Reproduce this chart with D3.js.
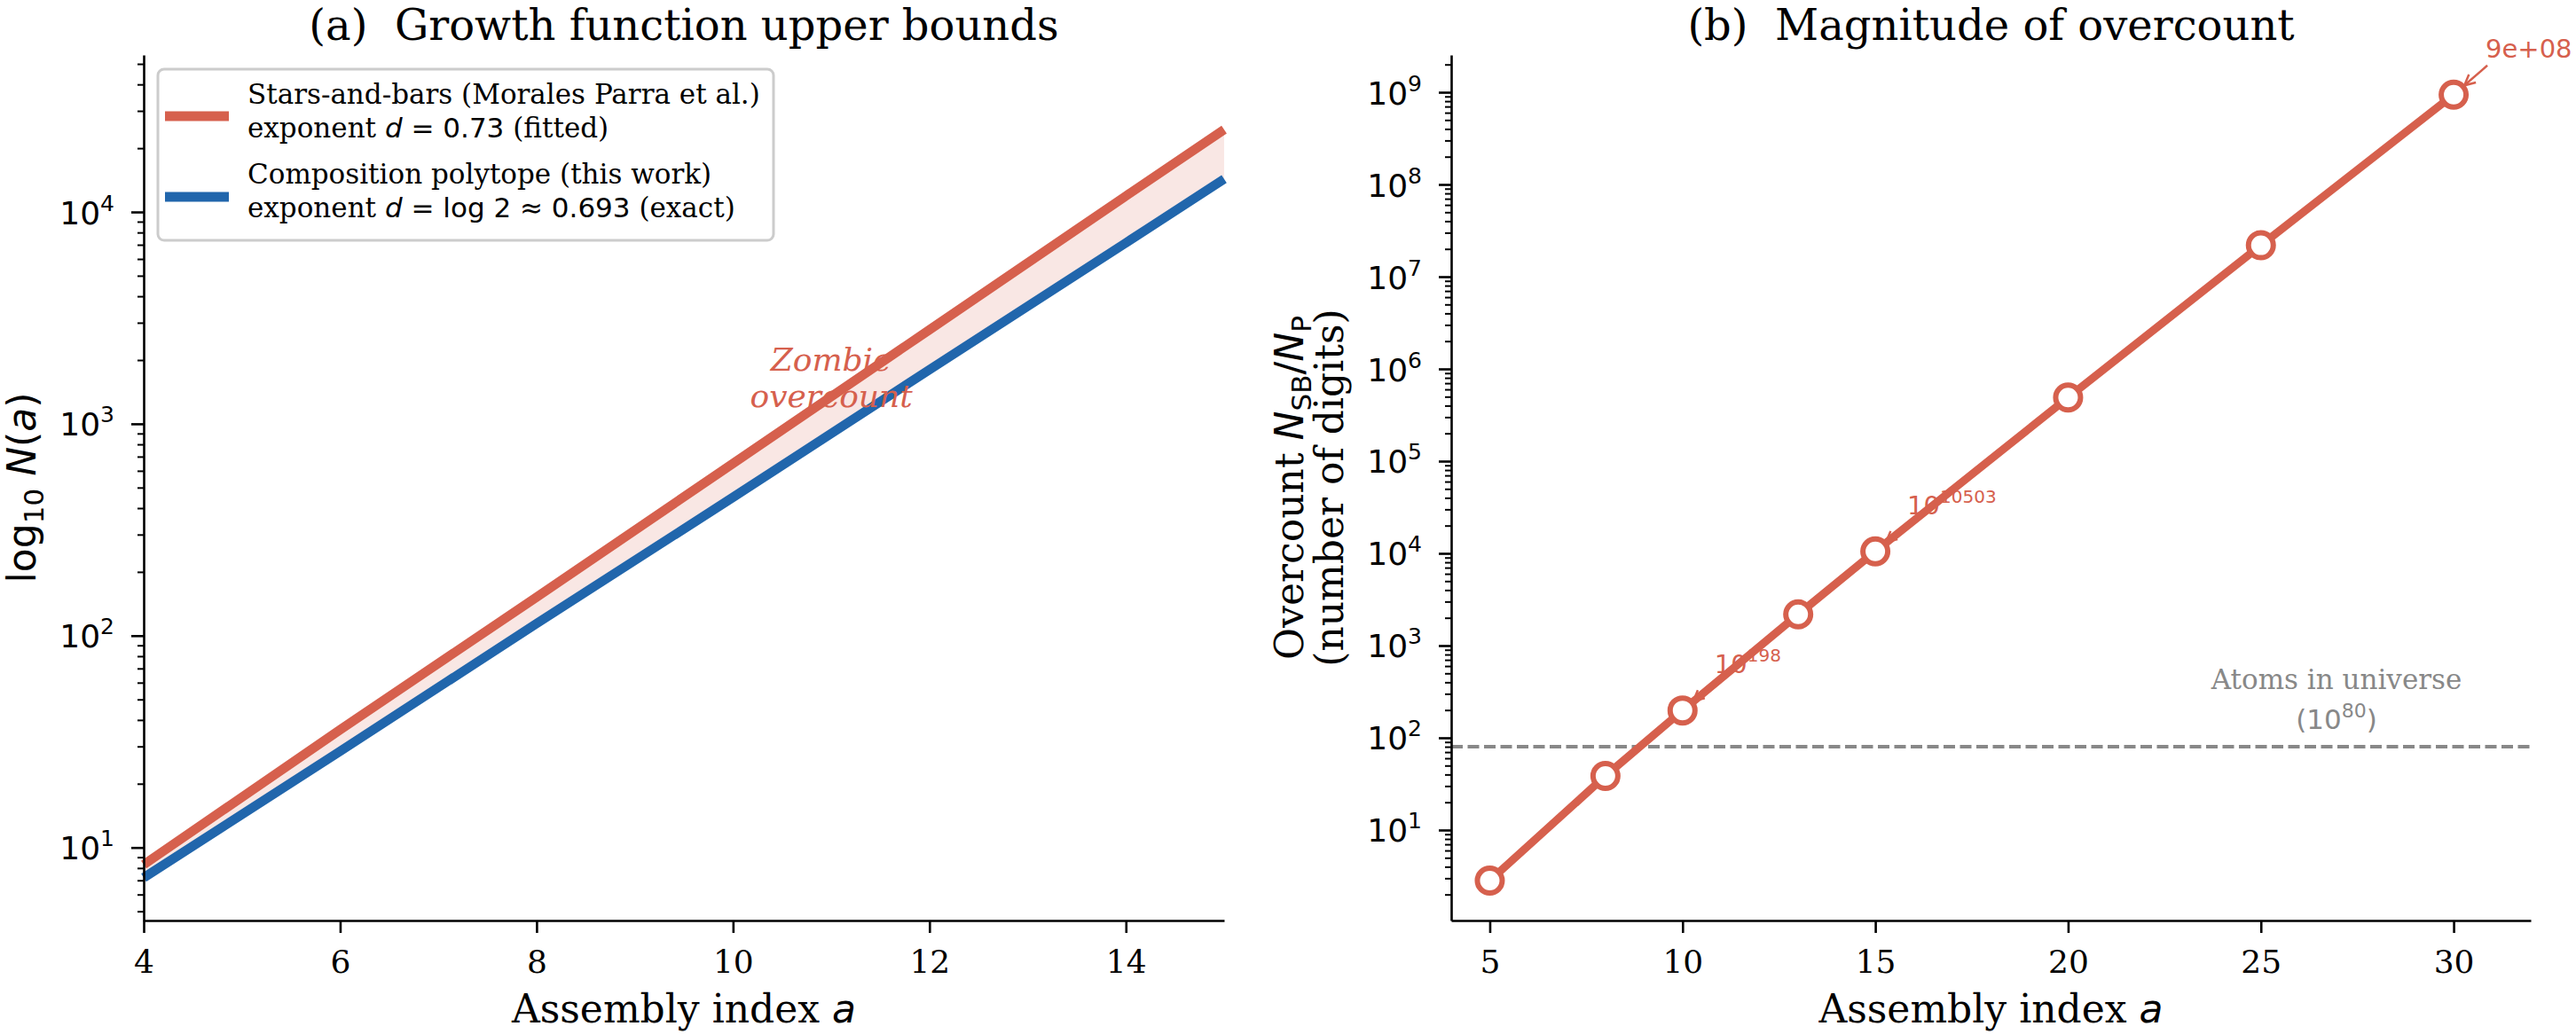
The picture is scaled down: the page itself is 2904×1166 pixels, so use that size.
<!DOCTYPE html>
<html>
<head>
<meta charset="utf-8">
<script src="https://cdn.jsdelivr.net/npm/d3@7"></script>
<style>
  body { margin: 0; background: #fff; }
  svg text { white-space: pre; }
</style>
</head>
<body>
<svg id="fig" width="2904" height="1166" font-family="DejaVu Serif"></svg>
<script>
// ---- panel (a): growth function upper bounds ----
const growthA      = [4, 6, 8, 10, 12, 14, 15]
const starsBarsN   = [8.3, 36, 152, 650, 2780, 11900, 24500]
const polytopeN    = [7.2, 28.5, 114, 450, 1800, 7150, 14300]
const growthXTicks = [4, 6, 8, 10, 12, 14]
const growthYTicks = [1e1, 1e2, 1e3, 1e4]

// ---- panel (b): magnitude of overcount ----
const overA        = [5, 8, 10, 13, 15, 20, 25, 30]
const overDigits   = [2.83, 38.6, 198, 2180, 10503, 4.9e5, 2.19e7, 9.4e8]
const overXTicks   = [5, 10, 15, 20, 25, 30]
const overYTicks   = [1e1, 1e2, 1e3, 1e4, 1e5, 1e6, 1e7, 1e8, 1e9]
const atomsDigits  = 80
const calloutA     = [10, 15, 30]
const calloutBase  = ["10", "10", "9e+08"]
const calloutSup   = ["198", "10503", ""]

const red = "#d6604d", blue = "#2166ac", grey = "#888888"
const svg = d3.select("#fig")

const boxA = {left: 162, right: 1380, top: 62, bottom: 1038}
const boxB = {left: 1636, right: 2853, top: 62, bottom: 1038}

let xA = d3.scaleLinear().domain([4, 15]).range([boxA.left, boxA.right])
let yA = d3.scaleLog().domain([10 ** 0.6555, 10 ** 4.741]).range([boxA.bottom, boxA.top])
let xB = d3.scaleLinear().domain([4, 32]).range([boxB.left, boxB.right])
let yB = d3.scaleLog().domain([10 ** 0.019, 10 ** 9.404]).range([boxB.bottom, boxB.top])

// arrow head for the callouts
svg.append("defs").append("marker")
    .attr("id", "head").attr("markerUnits", "userSpaceOnUse")
    .attr("viewBox", "-14 -8 16 16").attr("refX", 0).attr("refY", 0)
    .attr("markerWidth", 16).attr("markerHeight", 16).attr("orient", "auto")
    .append("path").attr("d", "M-12,-6L0,0L-12,6")
    .attr("fill", "none").attr("stroke", red).attr("stroke-width", 2.5)

function minor_ticks(scale) {
    let [lo, hi] = scale.domain()
    let out = []
    for (let k = Math.floor(Math.log10(lo)); k <= Math.ceil(Math.log10(hi)); k++)
        for (let m = 2; m <= 9; m++) {
            let v = m * 10 ** k
            if (v >= lo && v <= hi) out.push(v)
        }
    return out
}

function draw_axes(xScale, yScale, xTicks, yTicks, box) {
    // x axis
    let gx = svg.append("g").attr("transform", `translate(0,${box.bottom})`)
        .call(d3.axisBottom(xScale).tickValues(xTicks).tickSize(14).tickSizeOuter(0))
    gx.attr("font-family", null).attr("font-size", null)
    gx.selectAll(".tick text")
        .attr("font-size", 36)
        .attr("fill", "#000").attr("dy", null).attr("y", 59)
    // y axis, major
    let gy = svg.append("g").attr("transform", `translate(${box.left},0)`)
        .call(d3.axisLeft(yScale).tickValues(yTicks).tickSize(14).tickSizeOuter(0))
    gy.attr("font-family", "DejaVu Sans").attr("font-size", null)
    gy.selectAll(".tick text").each(function (d) {
        let t = d3.select(this).text(null)
            .attr("font-size", 36)
            .attr("fill", "#000").attr("dy", null).attr("y", 13).attr("x", -33)
        t.append("tspan").text("10")
        t.append("tspan").attr("dy", -15).attr("font-size", 25).text(Math.round(Math.log10(d)))
    })
    // y axis, minor
    let gm = svg.append("g").attr("transform", `translate(${box.left},0)`)
        .call(d3.axisLeft(yScale).tickValues(minor_ticks(yScale)).tickSize(7).tickFormat(""))
    gm.select(".domain").remove()
    gm.selectAll("line").attr("stroke-width", 2)
    for (let g of [gx, gy]) g.selectAll("line, path").attr("stroke-width", 2.6).attr("stroke", "#000")
}

function x_label(box) {
    let t = svg.append("text").attr("x", (box.left + box.right) / 2).attr("y", 1153)
        .attr("text-anchor", "middle").attr("font-size", 44)
    t.append("tspan").text("Assembly index ")
    t.append("tspan").attr("font-family", "DejaVu Sans").attr("font-style", "italic").text("a")
}

function title(box, txt) {
    svg.append("text").attr("x", (box.left + box.right) / 2).attr("y", 45)
        .attr("text-anchor", "middle").attr("font-size", 48).text(txt)
}

// ================= panel (a) =================
let band = d3.area()
    .x((d, i) => xA(growthA[i]))
    .y0((d, i) => yA(polytopeN[i]))
    .y1((d, i) => yA(starsBarsN[i]))
svg.append("path").attr("d", band(growthA)).attr("fill", red).attr("fill-opacity", 0.15)

let lineA = vals => d3.line().x((d, i) => xA(growthA[i])).y((d, i) => yA(vals[i]))(growthA)
svg.append("path").attr("d", lineA(starsBarsN)).attr("fill", "none").attr("stroke", red).attr("stroke-width", 10.5)
svg.append("path").attr("d", lineA(polytopeN)).attr("fill", "none").attr("stroke", blue).attr("stroke-width", 10.5)

// zombie label
let zx = xA(11), zy = yA(1600)
svg.append("text").attr("x", zx).attr("y", zy - 11).attr("text-anchor", "middle")
    .attr("font-size", 36).attr("font-style", "italic").attr("fill", red).text("Zombie")
svg.append("text").attr("x", zx).attr("y", zy + 30).attr("text-anchor", "middle")
    .attr("font-size", 36).attr("font-style", "italic").attr("fill", red).text("overcount")

draw_axes(xA, yA, growthXTicks, growthYTicks, boxA)
x_label(boxA)
title(boxA, "(a)  Growth function upper bounds")

// y label (a)
let yla = svg.append("text").attr("transform", `translate(40,${(boxA.top + boxA.bottom) / 2}) rotate(-90)`)
    .attr("text-anchor", "middle").attr("font-family", "DejaVu Sans").attr("font-size", 44)
yla.append("tspan").text("log")
yla.append("tspan").attr("dy", 9).attr("font-size", 31).text("10")
yla.append("tspan").attr("dy", -9).text(" ")
yla.append("tspan").attr("font-style", "italic").text("N")
yla.append("tspan").text("(")
yla.append("tspan").attr("font-style", "italic").text("a")
yla.append("tspan").text(")")

// legend
let leg = svg.append("g")
leg.append("rect").attr("x", 178).attr("y", 78).attr("width", 694).attr("height", 193).attr("rx", 7)
    .attr("fill", "#fff").attr("fill-opacity", 0.8).attr("stroke", "#cccccc").attr("stroke-width", 3)
leg.append("line").attr("x1", 186).attr("x2", 258).attr("y1", 131).attr("y2", 131).attr("stroke", red).attr("stroke-width", 11)
leg.append("line").attr("x1", 186).attr("x2", 258).attr("y1", 222).attr("y2", 222).attr("stroke", blue).attr("stroke-width", 11)
function leg_line(y, parts) {
    let t = leg.append("text").attr("x", 279).attr("y", y).attr("font-size", 31)
    parts.forEach(p => {
        let s = t.append("tspan").text(p[0])
        if (p[1] == "m") s.attr("font-family", "DejaVu Sans")
        if (p[1] == "i") s.attr("font-family", "DejaVu Sans").attr("font-style", "italic")
    })
}
leg_line(117, [["Stars-and-bars (Morales Parra et al.)"]])
leg_line(155, [["exponent "], ["d", "i"], [" = 0.73", "m"], [" (fitted)"]])
leg_line(207, [["Composition polytope (this work)"]])
leg_line(245, [["exponent "], ["d", "i"], [" = log 2 \u2248 0.693", "m"], [" (exact)"]])

// ================= panel (b) =================
svg.append("line").attr("x1", boxB.left).attr("x2", boxB.right)
    .attr("y1", yB(atomsDigits)).attr("y2", yB(atomsDigits))
    .attr("stroke", grey).attr("stroke-width", 4).attr("stroke-dasharray", "13 5.5")
svg.append("text").attr("x", 2634).attr("y", yB(atomsDigits) - 65).attr("text-anchor", "middle")
    .attr("font-size", 31).attr("fill", grey).text("Atoms in universe")
let atoms2 = svg.append("text").attr("x", 2634).attr("y", yB(atomsDigits) - 20).attr("text-anchor", "middle")
    .attr("font-family", "DejaVu Sans").attr("font-size", 31).attr("fill", grey)
atoms2.append("tspan").text("(10")
atoms2.append("tspan").attr("dy", -13).attr("font-size", 22).text(atomsDigits)
atoms2.append("tspan").attr("dy", 13).text(")")

let lineB = d3.line().x((d, i) => xB(overA[i])).y((d, i) => yB(overDigits[i]))
svg.append("path").attr("d", lineB(overA)).attr("fill", "none").attr("stroke", red).attr("stroke-width", 9)

// callouts
calloutA.forEach((a, k) => {
    let i = overA.indexOf(a)
    let px = xB(a), py = yB(overDigits[i])
    let tx = px + 36, ty = py - 42
    let dx = tx + 2 - px, dy = ty + 9 - py, len = Math.hypot(dx, dy)
    svg.append("line").attr("x1", tx + 2).attr("y1", ty + 9)
        .attr("x2", px + dx / len * 16).attr("y2", py + dy / len * 16)
        .attr("stroke", red).attr("stroke-width", 2.5).attr("marker-end", "url(#head)")
    let t = svg.append("text").attr("x", tx).attr("y", ty)
        .attr("font-family", "DejaVu Sans").attr("font-size", 29).attr("fill", red)
    t.append("tspan").text(calloutBase[k])
    if (calloutSup[k]) t.append("tspan").attr("dy", -13).attr("font-size", 20).text(calloutSup[k])
})

svg.selectAll(".markers").data(overA).enter().append("circle")
    .attr("cx", d => xB(d)).attr("cy", (d, i) => yB(overDigits[i])).attr("r", 14)
    .attr("fill", "#fff").attr("stroke", red).attr("stroke-width", 6)

draw_axes(xB, yB, overXTicks, overYTicks, boxB)
x_label(boxB)
title(boxB, "(b)  Magnitude of overcount")

// y label (b), two lines
let ylb = svg.append("text").attr("transform", `translate(1469,${(boxB.top + boxB.bottom) / 2}) rotate(-90)`)
    .attr("text-anchor", "middle").attr("font-size", 44)
ylb.append("tspan").text("Overcount ")
ylb.append("tspan").attr("font-family", "DejaVu Sans").attr("font-style", "italic").text("N")
ylb.append("tspan").attr("font-family", "DejaVu Sans").attr("font-size", 31).attr("dy", 9).text("SB")
ylb.append("tspan").attr("font-family", "DejaVu Sans").attr("dy", -9).text("/")
ylb.append("tspan").attr("font-family", "DejaVu Sans").attr("font-style", "italic").text("N")
ylb.append("tspan").attr("font-family", "DejaVu Sans").attr("font-size", 31).attr("dy", 9).text("P")
svg.append("text").attr("transform", `translate(1514,${(boxB.top + boxB.bottom) / 2}) rotate(-90)`)
    .attr("text-anchor", "middle").attr("font-size", 44).text("(number of digits)")
</script>
</body>
</html>
